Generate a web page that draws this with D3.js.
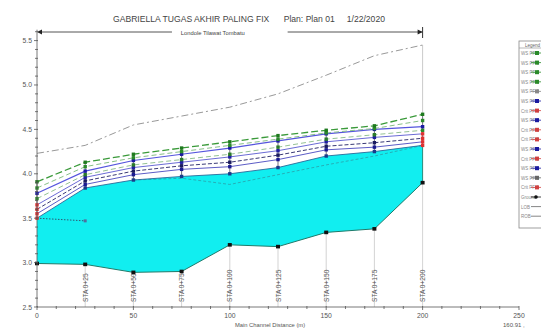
<!DOCTYPE html>
<html><head><meta charset="utf-8">
<script src="https://cdn.jsdelivr.net/npm/d3@7/dist/d3.min.js"></script>
<style>body{margin:0;background:#fff;} svg{display:block;font-family:Arial,"Liberation Sans",sans-serif;}</style>
</head><body>
<svg id="c" width="541" height="332"></svg>
<script>
const stations = [0,25,50,75,100,125,150,175,200];
const stationLabels = ["","STA 0+25","STA 0+50","STA 0+75","STA 0+100","STA 0+125","STA 0+150","STA 0+175","STA 0+200"];
const ground = [2.99,2.98,2.89,2.90,3.20,3.18,3.34,3.38,3.90];
const egLine = [4.23,4.32,4.55,4.65,4.75,4.90,5.11,5.33,5.45];
const ws1 = [3.91,4.13,4.22,4.29,4.36,4.43,4.49,4.54,4.67];
const ws2 = [3.84,4.08,4.18,4.25,4.32,4.39,4.46,4.51,4.60];
const ws3 = [3.78,4.03,4.15,4.22,4.29,4.37,4.45,4.50,4.53];
const ws4 = [3.72,3.99,4.10,4.16,4.22,4.30,4.39,4.44,4.49];
const ws5 = [3.65,3.96,4.07,4.13,4.19,4.26,4.36,4.41,4.45];
const ws6 = [3.60,3.92,4.03,4.09,4.13,4.21,4.31,4.35,4.40];
const ws7 = [3.55,3.88,3.99,4.05,4.08,4.16,4.27,4.30,4.36];
const wsLow = [3.50,3.84,3.93,3.97,4.00,4.07,4.20,4.25,4.32];
const critX = [50,75,100,125,150,175,200];
const crit = [3.93,3.95,3.88,3.99,4.10,4.20,4.32];
const dotX = [0,25];
const dotV = [3.50,3.47];
const xTicks = [0,50,100,150,200,250];
const yTicks = [2.5,3.0,3.5,4.0,4.5,5.0,5.5];
const legendLabels = ["WS PF 9","WS PF 8","WS PF 7","WS PF 6","WS PF 5","WS PF 4","Crit PF 4","WS PF 3","Crit PF 3","Crit PF 2","WS PF 2","Crit PF 5","WS PF 1","WS PF 0","Crit PF 1","Ground","LOB","ROB"];

const svg = d3.select("#c");
const x = d3.scaleLinear().domain([0,250]).range([37,519]);
const y = d3.scaleLinear().domain([2.5,5.6]).range([307,31.7]);

// title
svg.append("text").attr("x",113).attr("y",22).attr("font-size",8.6).attr("fill","#444")
  .attr("xml:space","preserve").text("GABRIELLA TUGAS AKHIR PALING FIX      Plan: Plan 01     1/22/2020");

// reach arrow
const aY = 32;
svg.append("line").attr("x1",x(0)+2).attr("x2",x(70)).attr("y1",aY).attr("y2",aY).attr("stroke","#555").attr("stroke-width",1);
svg.append("line").attr("x1",x(130)).attr("x2",x(200)).attr("y1",aY).attr("y2",aY).attr("stroke","#555").attr("stroke-width",1);
svg.append("path").attr("d",`M${x(0)},${aY} l5,-2.5 l0,5 z`).attr("fill","#222");
svg.append("path").attr("d",`M${x(200)},${aY} l-5,-2.5 l0,5 z`).attr("fill","#222");
svg.append("line").attr("x1",x(200)).attr("x2",x(200)).attr("y1",aY-5).attr("y2",aY+6).attr("stroke","#333");
svg.append("text").attr("x",x(100)-17).attr("y",aY+3).attr("text-anchor","middle").attr("font-size",5.8).attr("fill","#444").text("Londole Tilawat Tombatu");

const line = d3.line().x((d,i)=>x(stations[i])).y(d=>y(d));

// water fill
const area = d3.area().x((d,i)=>x(stations[i])).y0((d,i)=>y(ground[i])).y1(d=>y(d));
svg.append("path").attr("d",area(wsLow)).attr("fill","#11eef0").attr("stroke","none");

// station lines (bed to axis)
stations.forEach((s,i)=>{
  if(i>0) svg.append("line").attr("x1",x(s)).attr("x2",x(s)).attr("y1",y(ground[i])).attr("y2",y(2.5)).attr("stroke","#c8c8c8").attr("stroke-width",0.8);
  svg.append("line").attr("x1",x(s)).attr("x2",x(s)).attr("y1",y(wsLow[i])).attr("y2",y(ws1[i])).attr("stroke","#334",).attr("stroke-width",0.7);
});
svg.append("line").attr("x1",x(200)).attr("x2",x(200)).attr("y1",y(egLine[8])).attr("y2",y(ws1[8])).attr("stroke","#bbb").attr("stroke-width",0.8);
svg.append("line").attr("x1",x(200)).attr("x2",x(200)).attr("y1",y(wsLow[8])).attr("y2",y(ground[8])).attr("stroke","#2a8a7a").attr("stroke-width",1);

// station labels
stations.forEach((s,i)=>{
  if(!stationLabels[i]) return;
  svg.append("text").attr("transform",`translate(${x(s)+2.5},302) rotate(-90)`).attr("font-size",6.6).attr("fill","#555").text(stationLabels[i]);
});

// crit dashed inside water
svg.append("path").attr("d",d3.line().x((d,i)=>x(critX[i])).y(d=>y(d))(crit)).attr("fill","none").attr("stroke","#2aa0a8").attr("stroke-width",0.8).attr("stroke-dasharray","3,2");
svg.append("path").attr("d",d3.line().x((d,i)=>x(dotX[i])).y(d=>y(d))(dotV)).attr("fill","none").attr("stroke","#335").attr("stroke-width",0.8).attr("stroke-dasharray","1.5,1.5");
svg.append("rect").attr("x",x(25)-1.5).attr("y",y(3.47)-1.5).attr("width",3).attr("height",3).attr("fill","#5070a0");

// EG line
svg.append("path").attr("d",line(egLine)).attr("fill","none").attr("stroke","#999").attr("stroke-width",1).attr("stroke-dasharray","7,3,2,3");

// WS profiles
const profiles = [
  {v:wsLow, c:"#2a6a9a", dash:null, w:0.9, m:"#1a3a8a", end:"#e03030"},
  {v:ws7, c:"#4a4ac0", dash:null, w:0.9, m:"#1a1a90", end:"#e03030"},
  {v:ws6, c:"#222266", dash:"4,2", w:0.9, m:"#1a1a60", end:"#e03030"},
  {v:ws5, c:"#5a5ad0", dash:null, w:0.9, m:"#2020a0", end:"#e03030"},
  {v:ws4, c:"#88bb88", dash:"5,3", w:0.9, m:"#2a7a2a", end:"#2a8a2a"},
  {v:ws3, c:"#5555dd", dash:null, w:1.2, m:"#1a1aa0", end:"#1a1aa0"},
  {v:ws2, c:"#88c088", dash:"5,3", w:1, m:"#2a8a2a", end:"#2a8a2a"},
  {v:ws1, c:"#3a9a3a", dash:"7,3", w:1.3, m:"#1e7a1e", end:"#1e7a1e"}
];
profiles.forEach(p=>{
  const pa = svg.append("path").attr("d",line(p.v)).attr("fill","none").attr("stroke",p.c).attr("stroke-width",p.w);
  if(p.dash) pa.attr("stroke-dasharray",p.dash);
  p.v.forEach((d,i)=>{
    const col = (i===0||i===8)? p.end : p.m;
    svg.append("rect").attr("x",x(stations[i])-1.7).attr("y",y(d)-1.7).attr("width",3.4).attr("height",3.4).attr("fill",col);
  });
});

// ground
svg.append("path").attr("d",line(ground)).attr("fill","none").attr("stroke","#1f7a6a").attr("stroke-width",1);
ground.forEach((d,i)=>{
  svg.append("rect").attr("x",x(stations[i])-2).attr("y",y(d)-1.8).attr("width",4).attr("height",3.6).attr("fill","#111");
});

// axes
const ax = svg.append("g").attr("stroke","#555").attr("stroke-width",0.8);
ax.append("line").attr("x1",x(0)).attr("x2",x(0)).attr("y1",y(2.5)).attr("y2",y(5.6)-2);
ax.append("line").attr("x1",x(0)).attr("x2",x(250)).attr("y1",y(2.5)).attr("y2",y(2.5));
d3.range(25,57).forEach(k=>{
  const v=k/10; const major = k%5===0;
  ax.append("line").attr("x1",x(0)-(major?3:2)).attr("x2",x(0)+(major?1:1)).attr("y1",y(v)).attr("y2",y(v));
});
d3.range(0,26).forEach(k=>{
  const v=k*10; const major = k%5===0;
  ax.append("line").attr("x1",x(v)).attr("x2",x(v)).attr("y1",y(2.5)-(major?1:1)).attr("y2",y(2.5)+(major?3:2));
});
yTicks.forEach(t=>{
  svg.append("text").attr("x",x(0)-5).attr("y",y(t)+2.5).attr("text-anchor","end").attr("font-size",6.8).attr("fill","#555").text(d3.format(".1f")(t));
});
xTicks.forEach(t=>{
  svg.append("text").attr("x",x(t)).attr("y",318).attr("text-anchor","middle").attr("font-size",6.8).attr("fill","#555").text(t);
});
svg.append("text").attr("x",270).attr("y",327).attr("text-anchor","middle").attr("font-size",5.8).attr("fill","#555").text("Main Channel Distance (m)");
svg.append("text").attr("x",503).attr("y",327).attr("font-size",6).attr("fill","#555").text("160.91  ,");

// legend
const lg = svg.append("g");
lg.append("rect").attr("x",519).attr("y",41).attr("width",30).attr("height",187).attr("fill","#fff").attr("stroke","#888").attr("stroke-width",0.8);
lg.append("line").attr("x1",519).attr("x2",549).attr("y1",48).attr("y2",48).attr("stroke","#888").attr("stroke-width",0.6);
lg.append("text").attr("x",525).attr("y",46.5).attr("font-size",4.5).attr("fill","#666").text("Legend");
const lcols = ["#2a8a2a","#2a8a2a","#2a8a2a","#2a8a2a","#888","#1a1aa0","#d04040","#1a1aa0","#d04040","#d04040","#1a1aa0","#d04040","#1a1aa0","#666","#d04040","#111","#666","#666"];
legendLabels.forEach((l,i)=>{
  const yy = 53 + i*9.6;
  lg.append("text").attr("x",521).attr("y",yy+2).attr("font-size",4.5).attr("fill","#888").text(l);
  lg.append("line").attr("x1",531).attr("x2",545).attr("y1",yy).attr("y2",yy).attr("stroke",lcols[i]).attr("stroke-width",0.8);
  if(i<15) lg.append("rect").attr("x",535).attr("y",yy-2).attr("width",4).attr("height",4).attr("fill",lcols[i]);
  if(i===15) lg.append("circle").attr("cx",536).attr("cy",yy).attr("r",1.8).attr("fill","#111");
});
</script>
</body></html>
